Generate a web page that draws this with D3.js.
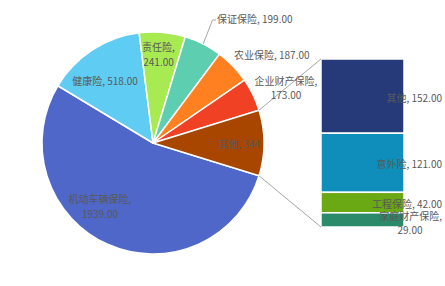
<!DOCTYPE html>
<html><head><meta charset="utf-8">
<script src="https://cdn.jsdelivr.net/npm/d3@7"></script>
<style>
html,body{margin:0;padding:0;background:#fff;}
text{font-family:"Noto Sans CJK SC","Microsoft YaHei",sans-serif;font-size:10px;fill:#595959;}
</style></head><body>
<svg id="c" width="445" height="286"></svg>
<script>
// Pie data (last slice "其他" is the sum of the bar items)
const pieCategories = ["机动车辆保险","健康险","责任险","保证保险","农业保险","企业财产保险","其他"];
const pieValues = [1939,518,241,199,187,173,344];
const pieColors = ["#4E67C8","#5ECCF3","#A7EA52","#5DCEAF","#FF8021","#F14124","#A84600"];
const pieValueLabels = ["1939.00","518.00","241.00","199.00","187.00","173.00","344"];
// Bar (secondary) data, top to bottom
const barCategories = ["其他","意外险","工程保险","家庭财产保险"];
const barValues = [152,121,42,29];
const barColors = ["#263A7A","#0F8EBB","#6AA814","#2A8A6A"];
const barValueLabels = ["152.00","121.00","42.00","29.00"];

const svg = d3.select("#c");
const cx = 153, cy = 143, R = 111;
const otherTotal = d3.sum(barValues);
const total = d3.sum(pieValues);
const otherAngle = otherTotal / total * 2 * Math.PI;
const start = Math.PI / 2 + otherAngle / 2;

const pie = d3.pie().sort(null).value(d => d).startAngle(start).endAngle(start + 2 * Math.PI);
const arcs = pie(pieValues);
const arc = d3.arc().innerRadius(0).outerRadius(R);

const g = svg.append("g").attr("transform", `translate(${cx},${cy})`);
g.selectAll("path").data(arcs).join("path")
  .attr("d", arc)
  .attr("fill", (d, i) => pieColors[i])
  .attr("stroke", "#fff").attr("stroke-width", 1.5).attr("stroke-linejoin", "round");

// Bar
const barX = 321, barW = 83;
const y = d3.scaleLinear().domain([0, otherTotal]).range([59, 227]);
let cum = 0;
const barData = barValues.map((v, i) => { const d = { v, i, y0: cum, y1: cum + v }; cum += v; return d; });
svg.selectAll("rect.bar").data(barData).join("rect").attr("class", "bar")
  .attr("x", barX).attr("width", barW)
  .attr("y", d => y(d.y0)).attr("height", d => y(d.y1) - y(d.y0))
  .attr("fill", d => barColors[d.i])
  .attr("stroke", "#fff").attr("stroke-width", 1.5);

// Connector lines
const oArc = arcs[arcs.length - 1];
const pt = a => [cx + R * Math.sin(a), cy - R * Math.cos(a)];
const pTop = pt(oArc.startAngle), pBot = pt(oArc.endAngle - 2 * Math.PI);
svg.append("line").attr("x1", pTop[0]).attr("y1", pTop[1]).attr("x2", barX).attr("y2", y(0))
  .attr("stroke", "#A6A6A6").attr("stroke-width", 1);
svg.append("line").attr("x1", pBot[0]).attr("y1", pBot[1]).attr("x2", barX).attr("y2", y(otherTotal))
  .attr("stroke", "#A6A6A6").attr("stroke-width", 1);

// Label layout: each line is [text, anchor, x]
function label(lines, yy) {
  lines.forEach((ln, k) => svg.append("text").attr("text-anchor", ln[1])
    .attr("x", ln[2]).attr("y", yy + k * 14.5).text(ln[0]));
}
label([[pieCategories[0] + ",", "middle", 100], [pieValueLabels[0], "middle", 100]], 203);
label([[pieCategories[1] + ", " + pieValueLabels[1], "middle", 105]], 84.5);
label([[pieCategories[2] + ",", "middle", 158.5], [pieValueLabels[2], "middle", 158.5]], 51);
label([[pieCategories[3] + ", " + pieValueLabels[3], "start", 217]], 23);
label([[pieCategories[4] + ", " + pieValueLabels[4], "start", 234]], 59);
label([[pieCategories[5] + ",", "middle", 286], [pieValueLabels[5], "middle", 286]], 84.5);
label([[pieCategories[6] + ", " + pieValueLabels[6], "middle", 239]], 147.5);

label([[barCategories[0] + ", " + barValueLabels[0], "end", 442]], 101.5);
label([[barCategories[1] + ", " + barValueLabels[1], "end", 442]], 168);
label([[barCategories[2] + ", " + barValueLabels[2], "end", 442]], 208);
label([[barCategories[3] + ",", "end", 442], [barValueLabels[3], "middle", 410]], 219.5);

// Leader for 保证保险
const a3 = (arcs[3].startAngle + arcs[3].endAngle) / 2;
const lp = [cx + R * Math.sin(a3), cy - R * Math.cos(a3)];
svg.append("polyline").attr("points", `${lp[0]},${lp[1]} 212.5,20 216,20`)
  .attr("fill", "none").attr("stroke", "#A6A6A6").attr("stroke-width", 1);
</script></body></html>
